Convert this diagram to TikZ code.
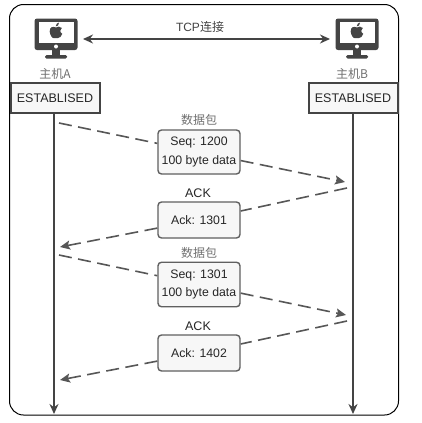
\documentclass[tikz,border=0pt]{standalone}
\usepackage{fontspec}
\setmainfont{Liberation Sans}
\newfontfamily\cjkf{Noto Sans CJK SC}
\usetikzlibrary{arrows.meta}
\definecolor{ink}{HTML}{444444}
\definecolor{pale}{HTML}{F7F7F7}
\definecolor{cjkgray}{HTML}{707070}
\tikzset{
 x=1pt,y=-1pt,
 frame/.style={draw=black,line width=1pt,rounded corners=14pt},
 statebox/.style={draw=ink,fill=pale,line width=2pt,minimum width=89pt,minimum height=30pt,inner sep=0pt,font=\fontsize{12.5}{14}\selectfont,text=black!85},
 msgbox/.style={draw=ink!85,fill=pale,line width=1.4pt,rounded corners=3.5pt,minimum width=82pt,inner sep=0pt,align=center,font=\fontsize{12.3}{18.5}\selectfont,text=black!85},
 lifeline/.style={draw=ink,line width=1.6pt,-{Stealth[length=10pt,width=9pt]}},
 msgline/.style={draw=ink!90,line width=1.6pt,dash pattern=on 13pt off 6.5pt},
 msgarrow/.style={msgline,-{Stealth[length=10pt,width=9pt,inset=2pt]}},
 cjklabel/.style={font=\cjkf\fontsize{12}{14}\selectfont,text=cjkgray,inner sep=0pt},
 acklabel/.style={font=\fontsize{12.5}{14}\selectfont,text=black!85,inner sep=0pt},
 tcplabel/.style={font=\fontsize{12}{14}\selectfont,text=ink,inner sep=0pt},
 pics/monitor/.style={code={
  \fill[ink,rounded corners=2.5pt] (-21.5,-20.5) rectangle (21.5,11);
  \fill[white] (-17.5,-17) rectangle (17.5,4);
  \fill[white] (0,7.5) circle (2pt);
  \fill[ink] (-4,11) rectangle (4,16.5);
  \fill[ink,rounded corners=1.5pt] (-11,16) rectangle (11,19.5);
  \fill[ink] (0,-11.5) .. controls (-3,-13) and (-6.5,-12) .. (-6.3,-7.5)
     .. controls (-6,-3.5) and (-3.5,-0.5) .. (-1.8,-0.8)
     .. controls (-0.8,-1) and (0.8,-1) .. (1.8,-0.8)
     .. controls (3.5,-0.5) and (5.5,-3) .. (6.3,-5.2)
     .. controls (3.6,-6.5) and (3.6,-10) .. (5.8,-11)
     .. controls (4,-13) and (1.8,-12.5) .. cycle;
  \fill[ink] (-0.3,-12.6) .. controls (-0.3,-15) and (1.5,-16.2) .. (3,-16.4)
     .. controls (3.2,-14) and (1.5,-12.6) .. cycle;
 }}
}
\begin{document}
\begin{tikzpicture}
\useasboundingbox (0,0) rectangle (421,423);
\fill[white] (0,0) rectangle (421,423);
\draw[frame] (9.5,4.5) rectangle (398.5,415);

\pic at (56,39) {monitor};
\pic at (357,39) {monitor};
\coordinate (ma) at (83,39);
\coordinate (mb) at (330,39);
\draw[draw=ink,line width=1.6pt,{Stealth[length=10pt,width=9pt]}-{Stealth[length=10pt,width=9pt]}] (ma) -- (mb);
\node[tcplabel] (tcp) at (200,27) {TCP{\cjkf 连接}};
\node[cjklabel] (la) at (55,74) {主机A};
\node[cjklabel] (lb) at (352,74) {主机B};

\node[statebox] (sa) at (55,98) {ESTABLISED};
\node[statebox] (sb) at (353,98) {ESTABLISED};
\coordinate (ea) at (54,414);
\coordinate (eb) at (353,414);
\draw[lifeline] (sa.south -| ea) -- (ea);
\draw[lifeline] (sb.south -| eb) -- (eb);

\node[msgbox,minimum height=44pt] (d1) at (199,152) {Seq: 1200\\100 byte data};
\node[msgbox,minimum height=36pt] (a1) at (199,220) {Ack: 1301};
\node[msgbox,minimum height=44.5pt] (d2) at (199,284.5) {Seq: 1301\\100 byte data};
\node[msgbox,minimum height=36pt] (a2) at (199,353) {Ack: 1402};

\node[cjklabel] (t1) at (199,120) {数据包};
\node[acklabel] (t2) at (198,193) {ACK};
\node[cjklabel] (t3) at (199,253) {数据包};
\node[acklabel] (t4) at (198,326) {ACK};

\coordinate (p1) at (59,123);
\coordinate (p2) at (345,182);
\coordinate (p3) at (347,188);
\coordinate (p4) at (60,247);
\coordinate (p5) at (59,255);
\coordinate (p6) at (346,315);
\coordinate (p7) at (347,321);
\coordinate (p8) at (60,380);

\draw[msgline] (p1) -- (d1);
\draw[msgarrow] (d1) -- (p2);
\draw[msgline] (p3) -- (a1);
\draw[msgarrow] (a1) -- (p4);
\draw[msgline] (p5) -- (d2);
\draw[msgarrow] (d2) -- (p6);
\draw[msgline] (p7) -- (a2);
\draw[msgarrow] (a2) -- (p8);
\end{tikzpicture}
\end{document}
